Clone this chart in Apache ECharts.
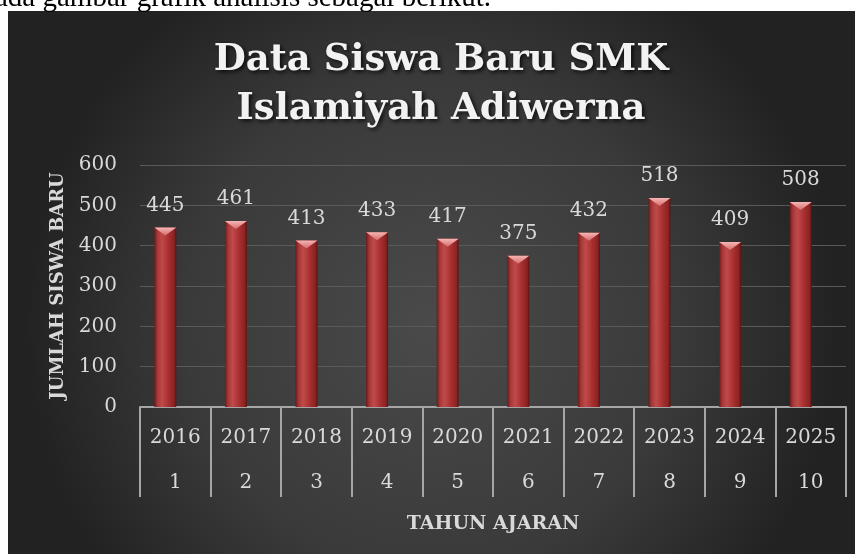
<!DOCTYPE html>
<html>
<head>
<meta charset="utf-8">
<style>
  html, body { margin: 0; padding: 0; background: #fff; }
  #chart { width: 861px; height: 554px; }
</style>
<script src="https://cdn.jsdelivr.net/npm/echarts@6/dist/echarts.min.js"></script>
</head>
<body>
<div id="chart"></div>
<script>
const tahun = ['2016', '2017', '2018', '2019', '2020', '2021', '2022', '2023', '2024', '2025'];
const nomor = ['1', '2', '3', '4', '5', '6', '7', '8', '9', '10'];
const jumlahSiswa = [445, 461, 413, 433, 417, 375, 432, 518, 409, 508];
const yTicks = { min: 0, max: 600, interval: 100 };

window.addEventListener('load', function () {
    let chart = echarts.init(document.getElementById('chart'));
    let serif = '"DejaVu Serif", "Liberation Serif", serif';
    let barColor = new echarts.graphic.LinearGradient(0, 0, 1, 0, [
        { offset: 0, color: '#6a1a1a' },
        { offset: 0.15, color: '#a83838' },
        { offset: 0.35, color: '#c04a4a' },
        { offset: 0.65, color: '#a82f2f' },
        { offset: 0.9, color: '#8a2323' },
        { offset: 1, color: '#561212' }
    ]);
    let option = {
        backgroundColor: '#ffffff',
        graphic: [
            {
                type: 'text',
                x: -5,
                y: -2,
                style: {
                    text: 'ada gambar grafik analisis sebagai berikut.',
                    font: '29px "Liberation Serif", serif',
                    fill: '#000',
                    verticalAlign: 'middle'
                }
            },
            {
                type: 'rect',
                z: -10,
                shape: { x: 8, y: 11, width: 847, height: 543 },
                style: {
                    fill: new echarts.graphic.RadialGradient(0.5, 0.58, 0.75, [
                        { offset: 0, color: '#4a4a4a' },
                        { offset: 0.6, color: '#3a3a3a' },
                        { offset: 1, color: '#222222' }
                    ])
                }
            },
            {
                type: 'text',
                x: 441,
                y: 36,
                style: {
                    text: 'Data Siswa Baru SMK\nIslamiyah Adiwerna',
                    font: 'bold 37px ' + serif,
                    lineHeight: 49,
                    fill: '#f2f2f2',
                    align: 'center',
                    verticalAlign: 'top',
                    textShadowColor: 'rgba(0,0,0,0.8)',
                    textShadowBlur: 4,
                    textShadowOffsetX: 2,
                    textShadowOffsetY: 2
                }
            }
        ],
        grid: {
            left: 140,
            right: 15,
            top: 165,
            bottom: 147,
            outerBoundsMode: 'none'
        },
        xAxis: {
            type: 'category',
            data: tahun,
            name: 'TAHUN AJARAN',
            nameLocation: 'middle',
            nameGap: 108,
            nameTextStyle: { color: '#d9d9d9', fontFamily: serif, fontWeight: 'bold', fontSize: 19 },
            axisLine: { lineStyle: { color: '#a6a6a6', width: 2 } },
            axisTick: { show: true, interval: 0, length: 90, lineStyle: { color: '#a6a6a6', width: 2 } },
            axisLabel: {
                interval: 0,
                margin: 8,
                formatter: function (value, idx) {
                    return '{a|' + value + '}\n{a|' + nomor[idx] + '}';
                },
                rich: {
                    a: { color: '#d9d9d9', fontFamily: serif, fontSize: 20, lineHeight: 45 }
                }
            },
            splitLine: { show: false }
        },
        yAxis: {
            type: 'value',
            min: yTicks.min,
            max: yTicks.max,
            interval: yTicks.interval,
            name: 'JUMLAH SISWA BARU',
            nameLocation: 'middle',
            nameGap: 73,
            nameTextStyle: { color: '#d9d9d9', fontFamily: serif, fontWeight: 'bold', fontSize: 18 },
            axisLine: { show: false },
            axisTick: { show: false },
            axisLabel: { color: '#d9d9d9', fontFamily: serif, fontSize: 20, margin: 23 },
            splitLine: { lineStyle: { color: '#5a5a5a', width: 1 } }
        },
        series: [
            {
                name: 'Jumlah',
                type: 'bar',
                barWidth: 22,
                barGap: '-9%',
                data: jumlahSiswa,
                itemStyle: { color: barColor },
                label: {
                    show: true,
                    position: 'top',
                    distance: 12,
                    color: '#d9d9d9',
                    fontFamily: serif,
                    fontSize: 20
                },
                z: 2
            },
            {
                name: 'pad',
                type: 'bar',
                barWidth: 22,
                barGap: '-9%',
                data: jumlahSiswa.map(function () { return null; }),
                silent: true
            },
            {
                name: 'cap',
                type: 'pictorialBar',
                data: jumlahSiswa,
                symbol: 'path://M0,0 L22,0 L11,8 Z',
                symbolSize: [22, 8],
                symbolPosition: 'end',
                symbolOffset: [-10, 0],
                itemStyle: {
                    color: new echarts.graphic.LinearGradient(0, 0, 0, 1, [
                        { offset: 0, color: '#f7b4b4' },
                        { offset: 1, color: '#d46d6d' }
                    ])
                },
                silent: true,
                z: 3
            }
        ]
    };
    chart.setOption(option);
}, false);
</script>
</body>
</html>
